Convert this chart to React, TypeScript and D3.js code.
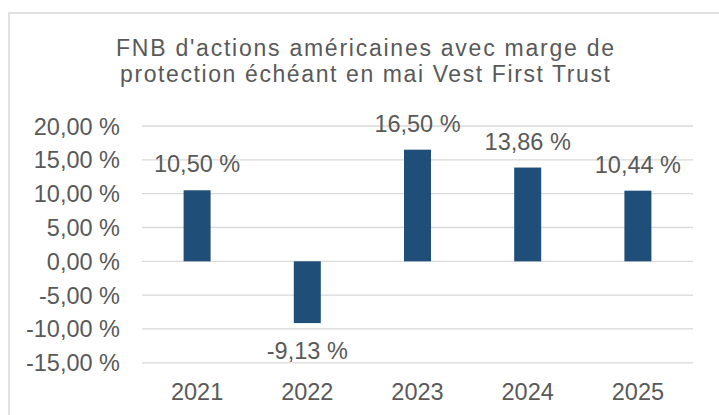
import React from "react";
import * as d3 from "d3";

const categories = ["2021", "2022", "2023", "2024", "2025"];
const values = [10.5, -9.13, 16.5, 13.86, 10.44];
const valueLabels = ["10,50 %", "-9,13 %", "16,50 %", "13,86 %", "10,44 %"];
const yTicks = [20, 15, 10, 5, 0, -5, -10, -15];
const titleLines = [
  "FNB d'actions américaines avec marge de",
  "protection échéant en mai Vest First Trust",
];
const titleWidths = [498, 490];

const W = 719;
const H = 415;
const font = "'Liberation Sans', Arial, sans-serif";
const textColor = "#595959";

const fmtTick = (v: number) => v.toFixed(2).replace(".", ",") + " %";

export default function App() {
  const x = d3
    .scaleBand<string>()
    .domain(categories)
    .range([142, 693])
    .paddingInner(0.755)
    .paddingOuter(0.755 / 2);
  const y = d3.scaleLinear().domain([-15, 20]).range([362.8, 126]);

  return (
    <svg
      width={W}
      height={H}
      style={{ position: "absolute", left: 0, top: 0, background: "#fff" }}
      fontFamily={font}
    >
      <rect x={9} y={13} width={W} height={H} fill="#fff" stroke="#d9d9d9" strokeWidth={1.5} />
      {titleLines.map((t, i) => (
        <text
          key={i}
          x={365}
          y={55.5 + i * 26}
          textAnchor="middle"
          fontSize={23}
          fill={textColor}
          textLength={titleWidths[i]}
          lengthAdjust="spacing"
        >
          {t}
        </text>
      ))}
      {yTicks.map((t) => (
        <g key={t}>
          <line x1={142} x2={693} y1={y(t)} y2={y(t)} stroke="#d9d9d9" strokeWidth={1.3} />
          <text x={120} y={y(t) + 8.5} textAnchor="end" fontSize={23.5} fill={textColor}>
            {fmtTick(t)}
          </text>
        </g>
      ))}
      {categories.map((c, i) => {
        const v = values[i];
        const y0 = y(0);
        const y1 = y(v);
        const bx = x(c)!;
        const cx = bx + x.bandwidth() / 2;
        return (
          <g key={c}>
            <rect
              x={bx}
              y={Math.min(y0, y1)}
              width={x.bandwidth()}
              height={Math.abs(y1 - y0)}
              fill="#1f4e79"
            />
            <text
              x={cx}
              y={v >= 0 ? y1 - 18 : y1 + 36}
              textAnchor="middle"
              fontSize={23.5}
              fill={textColor}
            >
              {valueLabels[i]}
            </text>
            <text x={cx} y={400} textAnchor="middle" fontSize={23.5} fill={textColor}>
              {c}
            </text>
          </g>
        );
      })}
    </svg>
  );
}
